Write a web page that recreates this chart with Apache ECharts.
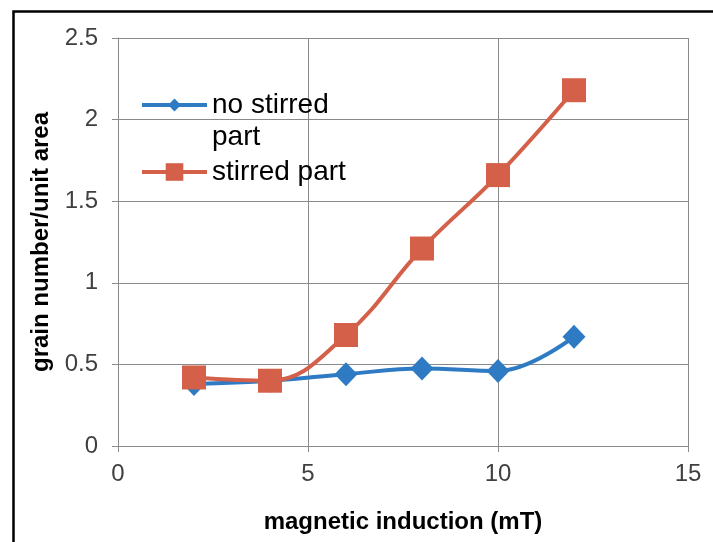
<!DOCTYPE html>
<html>
<head>
<meta charset="utf-8">
<script src="https://cdn.jsdelivr.net/npm/echarts@6/dist/echarts.min.js"></script>
<style>
html,body{margin:0;padding:0;background:#fff;}
#c{width:713px;height:542px;}
</style>
</head>
<body>
<div id="c"></div>
<script>
var xValues = [2, 4, 6, 8, 10, 12];
var noStirred = [0.38, 0.40, 0.44, 0.475, 0.46, 0.67];
var stirred = [0.42, 0.40, 0.68, 1.21, 1.66, 2.18];
var seriesNames = ['no stirred part', 'stirred part'];
var xTitle = 'magnetic induction (mT)';
var yTitle = 'grain number/unit area';

var blue = '#2E7BC4';
var red = '#D4604A';
var font = 'Liberation Sans, Arial, sans-serif';

function pairs(xs, ys) { return xs.map(function (x, i) { return [x, ys[i]]; }); }

var chart = echarts.init(document.getElementById('c'), null, {renderer: 'canvas'});
chart.setOption({
  animation: false,
  backgroundColor: '#fff',
  graphic: [{
    type: 'rect', left: 11, top: 9, z: -10,
    shape: {width: 740, height: 580},
    style: {fill: 'none', stroke: '#000', lineWidth: 2.5}
  }],
  grid: {left: 118, right: 25, top: 38, bottom: 96, containLabel: false},
  legend: [{
    data: [seriesNames[0]],
    left: 135, top: 52, orient: 'vertical',
    itemWidth: 65, itemHeight: 16,
    lineStyle: {width: 4, color: blue},
    formatter: function () { return ' \nno stirred\npart'; },
    textStyle: {fontFamily: font, fontSize: 28, color: '#000', lineHeight: 32}
  }, {
    data: [seriesNames[1]],
    left: 135, top: 151, orient: 'vertical',
    itemWidth: 65, itemHeight: 22,
    lineStyle: {width: 4, color: red},
    textStyle: {fontFamily: font, fontSize: 28, color: '#000', lineHeight: 32}
  }],
  xAxis: {
    type: 'value', min: 0, max: 15, interval: 5,
    name: xTitle, nameLocation: 'middle', nameGap: 64,
    nameTextStyle: {fontFamily: font, fontSize: 24, fontWeight: 'bold', color: '#000'},
    axisLine: {show: true, lineStyle: {color: '#8a8a8a', width: 1}},
    axisTick: {show: true, length: 6, lineStyle: {color: '#8a8a8a'}},
    axisLabel: {fontFamily: font, fontSize: 24, color: '#404040', margin: 16},
    splitLine: {show: true, lineStyle: {color: '#8a8a8a', width: 1}}
  },
  yAxis: {
    type: 'value', min: 0, max: 2.5, interval: 0.5,
    name: yTitle, nameLocation: 'middle', nameGap: 64, nameRotate: 90,
    nameTextStyle: {fontFamily: font, fontSize: 24, fontWeight: 'bold', color: '#000'},
    axisLine: {show: true, lineStyle: {color: '#8a8a8a', width: 1}},
    axisTick: {show: true, length: 6, lineStyle: {color: '#8a8a8a'}},
    axisLabel: {fontFamily: font, fontSize: 24, color: '#404040', margin: 20},
    splitLine: {show: true, lineStyle: {color: '#8a8a8a', width: 1}}
  },
  series: [{
    name: seriesNames[0], type: 'line', smooth: 0.4,
    data: pairs(xValues, noStirred),
    symbol: 'diamond', symbolSize: [23, 24],
    lineStyle: {color: blue, width: 4},
    itemStyle: {color: blue}
  }, {
    name: seriesNames[1], type: 'line', smooth: 0.4,
    data: pairs(xValues, stirred),
    symbol: 'rect', symbolSize: 24,
    lineStyle: {color: red, width: 4},
    itemStyle: {color: red}
  }]
});
</script>
</body>
</html>
